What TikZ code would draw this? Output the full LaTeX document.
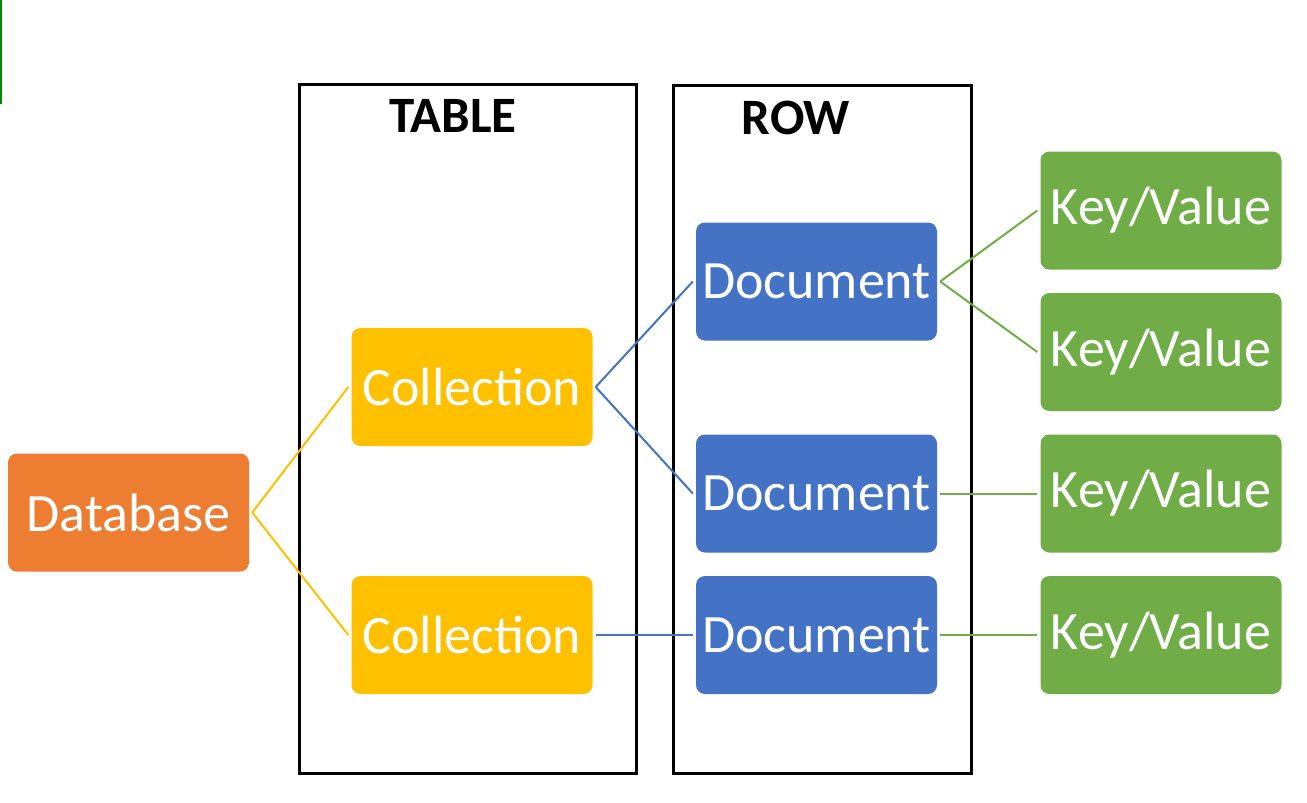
\documentclass[tikz,border=0pt]{standalone}
\usepackage{fontspec}
\setmainfont{Carlito}
\definecolor{dborange}{HTML}{ED7D31}
\definecolor{colyellow}{HTML}{FFC000}
\definecolor{docblue}{HTML}{4472C4}
\definecolor{kvgreen}{HTML}{70AD47}
\definecolor{edgegreen}{HTML}{008A00}
\begin{document}
\begin{tikzpicture}[x=1pt,y=-1pt,
  box/.style={rounded corners=9pt, minimum width=241pt, minimum height=118pt, inner sep=0pt,
    text=white, font=\fontsize{54}{62}\selectfont},
  dbbox/.style={box, fill=dborange},
  colbox/.style={box, fill=colyellow},
  docbox/.style={box, fill=docblue},
  kvbox/.style={box, fill=kvgreen},
  frame/.style={draw=black, line width=3pt, inner sep=0pt},
  title/.style={font=\bfseries\fontsize{51}{58}\selectfont, inner sep=0pt},
  ylink/.style={draw=colyellow, line width=2pt},
  blink/.style={draw=docblue, line width=2pt},
  glink/.style={draw=kvgreen, line width=2pt}]
\useasboundingbox (0,0) rectangle (1307,803);
\fill[white] (0,0) rectangle (1307,803);
\draw[edgegreen, line width=2.5pt] (1.2,0) -- (1.2,104);
% frames
\node[frame, minimum width=337pt, minimum height=689pt] (tableframe) at (467.5,428.5) {};
\node[frame, minimum width=298pt, minimum height=688pt] (rowframe) at (822,429) {};
\node[title] (tabletitle) at (453,116) {TABLE};
\node[title] (rowtitle) at (796,118) {ROW};
% boxes
\node[dbbox] (db) at (128.5,512.5) {Database};
\node[colbox] (col1) at (472,387) {Collection};
\node[colbox] (col2) at (472,635) {Collection};
\node[docbox] (doc1) at (816.5,281.5) {Document};
\node[docbox] (doc2) at (816.5,493.5) {Document};
\node[docbox] (doc3) at (816.5,635) {Document};
\node[kvbox] (kv1) at (1161,210.5) {Key/Value};
\node[kvbox] (kv2) at (1161,352) {Key/Value};
\node[kvbox] (kv3) at (1161,493.5) {Key/Value};
\node[kvbox] (kv4) at (1161,635) {Key/Value};
% links
\path[ylink] ([xshift=3pt]db.east) -- ([xshift=-3pt]col1.west);
\path[ylink] ([xshift=3pt]db.east) -- ([xshift=-3pt]col2.west);
\path[blink] ([xshift=3pt]col1.east) -- ([xshift=-3pt]doc1.west);
\path[blink] ([xshift=3pt]col1.east) -- ([xshift=-3pt]doc2.west);
\path[blink] ([xshift=3pt]col2.east) -- ([xshift=-3pt]doc3.west);
\path[glink] ([xshift=3pt]doc1.east) -- ([xshift=-3pt]kv1.west);
\path[glink] ([xshift=3pt]doc1.east) -- ([xshift=-3pt]kv2.west);
\path[glink] ([xshift=3pt]doc2.east) -- ([xshift=-3pt]kv3.west);
\path[glink] ([xshift=3pt]doc3.east) -- ([xshift=-3pt]kv4.west);
\end{tikzpicture}
\end{document}
